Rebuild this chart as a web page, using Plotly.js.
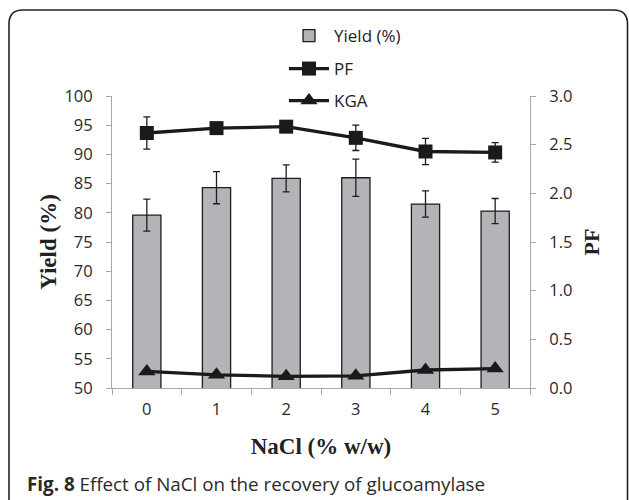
<!DOCTYPE html>
<html>
<head>
<meta charset="utf-8">
<script src="https://cdn.plot.ly/plotly-3.0.1.min.js"></script>
<style>
  html, body { margin: 0; padding: 0; background: #fff; }
  #chart { width: 629px; height: 500px; }
</style>
</head>
<body>
<div id="chart"></div>
<script>
// ---- data ----
const nacl = ["0", "1", "2", "3", "4", "5"];
const yieldPct = [79.6, 84.3, 85.9, 86.0, 81.5, 80.3];
const yieldErr = [2.75, 2.75, 2.3, 3.2, 2.25, 2.15];
const pf = [2.62, 2.67, 2.685, 2.57, 2.43, 2.42];
const pfErr = [0.165, 0.04, 0.04, 0.13, 0.135, 0.1];
const kga = [0.17, 0.135, 0.12, 0.125, 0.185, 0.2];

const leftTicks = [50, 55, 60, 65, 70, 75, 80, 85, 90, 95, 100];
const rightTicks = [0, 0.5, 1.0, 1.5, 2.0, 2.5, 3.0];

// plot-area geometry in page pixels (for paper-coordinate helpers)
const PL = 112, PR = 530, PT = 96, PB = 388;
const px = x => (x - PL) / (PR - PL);
const py = y => (PB - y) / (PB - PT);

const tickFont = { family: "Open Sans, sans-serif", size: 16.5, color: "#2a2a2a" };
const titleFont = { family: "Liberation Serif, Times New Roman, serif", size: 23, color: "#222" };
const legFont = { family: "Open Sans, sans-serif", size: 17, color: "#222" };
const axisGray = "#a8a8a8";

const traces = [
  {
    type: "bar", name: "Yield (%)", x: nacl, y: yieldPct, yaxis: "y",
    width: 0.405,
    marker: { color: "#b3b4b7", line: { color: "#1e1e1e", width: 1.3 } },
    error_y: { type: "data", array: yieldErr, visible: true, color: "#1e1e1e", thickness: 1.3, width: 3.5 },
    legend: "legend"
  },
  {
    type: "scatter", mode: "lines+markers", name: "PF", x: nacl, y: pf, yaxis: "y2",
    line: { color: "#1a1a1a", width: 3.3 },
    marker: { symbol: "square", size: 14, color: "#1a1a1a" },
    error_y: { type: "data", array: pfErr, visible: true, color: "#1a1a1a", thickness: 1.3, width: 3.5 },
    legend: "legend2"
  },
  {
    type: "scatter", mode: "lines+markers", name: "KGA", x: nacl, y: kga, yaxis: "y2",
    line: { color: "#1a1a1a", width: 3.3 },
    marker: { symbol: "triangle-up", size: 15, color: "#1a1a1a" },
    legend: "legend3"
  }
];

const r = 14;
const bx0 = px(9), bx1 = px(627.5), by1 = py(10), by0 = py(505);
const rx = r / (PR - PL), ry = r / (PB - PT);
const borderPath =
  `M ${bx0},${by0} L ${bx0},${by1 - ry} Q ${bx0},${by1} ${bx0 + rx},${by1} ` +
  `L ${bx1 - rx},${by1} Q ${bx1},${by1} ${bx1},${by1 - ry} L ${bx1},${by0}`;

const legBase = {
  xanchor: "left", yanchor: "middle", bgcolor: "rgba(0,0,0,0)", borderwidth: 0,
  font: legFont, orientation: "v", itemwidth: 40
};

const layout = {
  width: 629, height: 500,
  margin: { l: PL, r: 629 - PR, t: PT, b: 500 - PB, pad: 0 },
  paper_bgcolor: "#fff", plot_bgcolor: "#fff",
  showlegend: true,
  xaxis: {
    type: "category", tickson: "boundaries", ticks: "outside", ticklen: 6, tickcolor: axisGray,
    showline: true, linecolor: axisGray, linewidth: 1, showgrid: false, zeroline: false,
    tickfont: tickFont, ticklabelstandoff: 6,
    title: { text: "<b>NaCl (% w/w)</b>", font: titleFont, standoff: 19 }
  },
  yaxis: {
    range: [50, 100], tickvals: leftTicks, ticks: "outside", ticklen: 5, tickcolor: axisGray,
    showline: true, linecolor: axisGray, linewidth: 1, showgrid: false, zeroline: false,
    tickfont: tickFont, ticklabelstandoff: 10,
    title: { text: "<b>Yield (%)</b>", font: titleFont, standoff: 1 }
  },
  yaxis2: {
    range: [0, 3], tickvals: rightTicks, tickformat: ".1f", overlaying: "y", side: "right",
    ticks: "outside", ticklen: 5, tickcolor: axisGray,
    showline: true, linecolor: axisGray, linewidth: 1, showgrid: false, zeroline: false,
    tickfont: tickFont, ticklabelstandoff: 10,
    title: { text: "<b>PF</b>", font: Object.assign({}, titleFont, { size: 22 }), standoff: 12 }
  },
  legend: Object.assign({}, legBase, { x: px(284), y: py(36) }),
  legend2: Object.assign({}, legBase, { x: px(284), y: py(69) }),
  legend3: Object.assign({}, legBase, { x: px(284), y: py(101) }),
  shapes: [{
    type: "path", xref: "paper", yref: "paper", path: borderPath,
    line: { color: "#222", width: 1.6 }, fillcolor: "rgba(0,0,0,0)"
  }],
  annotations: [{
    xref: "paper", yref: "paper", x: px(25), y: py(484), xanchor: "left", yanchor: "middle",
    showarrow: false, align: "left",
    text: "<b>Fig. 8</b> Effect of NaCl on the recovery of glucoamylase",
    font: { family: "Open Sans, sans-serif", size: 18.8, color: "#2a2a2a" }
  }]
};

Plotly.newPlot("chart", traces, layout, { displayModeBar: false, staticPlot: true });
</script>
</body>
</html>
